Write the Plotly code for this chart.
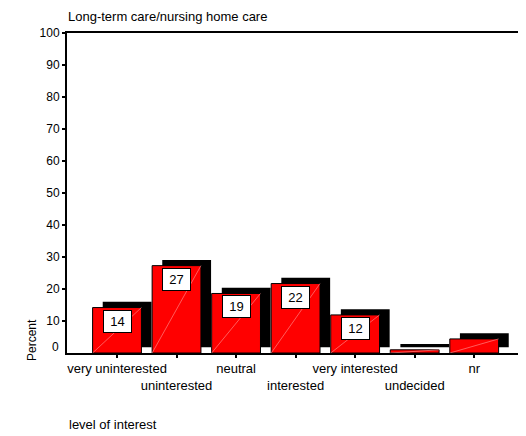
import plotly.graph_objects as go

# level of interest categories and their percentages
categories = ["very uninterested", "uninterested", "neutral", "interested",
              "very interested", "undecided", "nr"]
percent = [14.2, 27.3, 18.6, 21.7, 11.9, 1.0, 4.4]
bar_labels = ["14", "27", "19", "22", "12", "", ""]
y_ticks = [10, 20, 30, 40, 50, 60, 70, 80, 90, 100]

FONT = "Liberation Sans, Arial, sans-serif"
bar_w = 0.82
shadow_dx = 0.17
shadow_dy = 1.8

xs = list(range(len(categories)))

fig = go.Figure()

# drop shadow behind each bar
fig.add_trace(go.Bar(x=[x + shadow_dx for x in xs], y=percent, base=shadow_dy,
                     width=bar_w, marker=dict(color="black", line=dict(width=0)),
                     hoverinfo="skip", showlegend=False))

# the red bars
fig.add_trace(go.Bar(x=xs, y=percent, width=bar_w,
                     marker=dict(color="#ff0000", line=dict(color="black", width=1)),
                     showlegend=False))

# faint diagonal inside each bar
dx, dy = [], []
for x, v in zip(xs, percent):
    dx += [x - bar_w / 2, x + bar_w / 2, None]
    dy += [0, v, None]
fig.add_trace(go.Scatter(x=dx, y=dy, mode="lines",
                         line=dict(color="rgba(255,170,170,0.9)", width=0.6),
                         hoverinfo="skip", showlegend=False))

# value boxes
for x, v, lab in zip(xs, percent, bar_labels):
    if lab:
        fig.add_annotation(x=x, y=v, text=lab, showarrow=False, yanchor="top",
                           yshift=-2, font=dict(family=FONT, size=13, color="black"),
                           bgcolor="white", bordercolor="black", borderwidth=1,
                           width=25, height=19)

ticktext = [c if i % 2 == 0 else "<br>" + c for i, c in enumerate(categories)]

# page body has an 8px margin, so the figure is a bit smaller than the window
fig.update_layout(
    width=518, height=428,
    margin=dict(l=59, r=0, t=25, b=83),
    paper_bgcolor="white", plot_bgcolor="white",
    barmode="overlay",
    font=dict(family=FONT, size=12, color="black"),
    xaxis=dict(range=[-0.84, 6.87], tickvals=xs, ticktext=ticktext, tickangle=0,
               tickfont=dict(size=13),
               ticks="outside", ticklen=3, tickwidth=2, tickcolor="black",
               showline=True, linecolor="black", linewidth=1.5, mirror=True,
               showgrid=False, zeroline=False, fixedrange=True, automargin=False),
    yaxis=dict(range=[0, 100], tickvals=y_ticks,
               ticks="outside", ticklen=3, tickwidth=2, tickcolor="black",
               showline=True, linecolor="black", linewidth=2,
               showgrid=False, zeroline=False, fixedrange=True, automargin=False),
)

fig.add_annotation(x=0, y=0, xref="paper", yref="y", text="0", showarrow=False,
                   xanchor="right", xshift=-6, yshift=6, font=dict(size=12))
fig.add_annotation(x=0, y=1, xref="paper", yref="paper",
                   text="Long-term care/nursing home care", showarrow=False,
                   xanchor="left", yanchor="middle", xshift=0, yshift=17,
                   borderpad=0, font=dict(size=13))
fig.add_annotation(x=0, y=0, xref="paper", yref="paper", text="level of interest",
                   showarrow=False, xanchor="left", yanchor="middle",
                   xshift=0, yshift=-71, font=dict(size=13))
fig.add_annotation(x=0, y=0, xref="paper", yref="paper", text="Percent",
                   showarrow=False, textangle=-90, xanchor="center",
                   yanchor="bottom", xshift=-35, yshift=-10, font=dict(size=12))

fig.write_html("out.html")
